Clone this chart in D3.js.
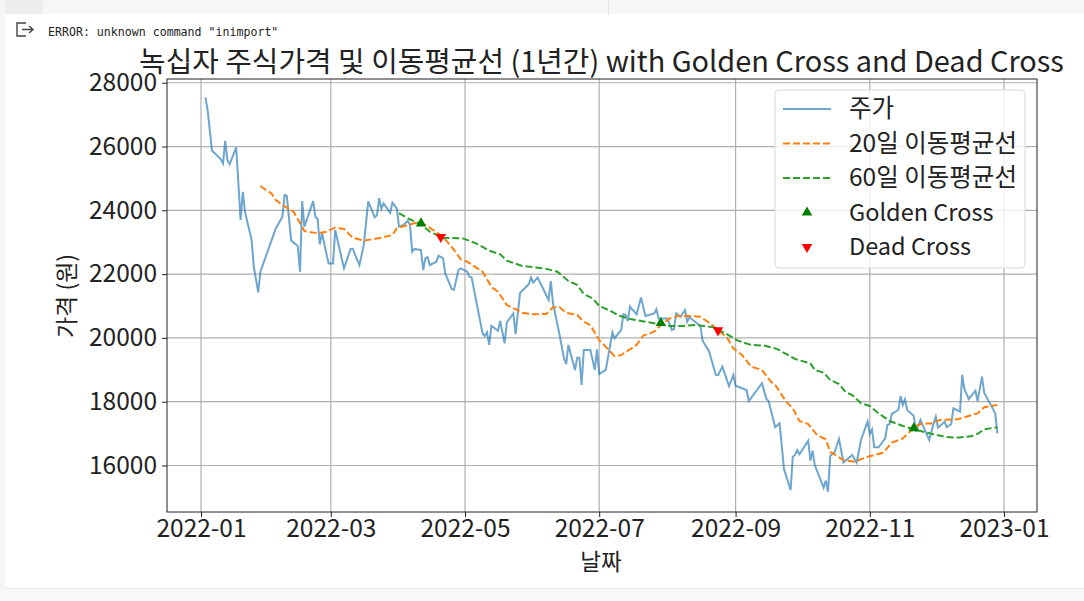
<!DOCTYPE html>
<html>
<head>
<meta charset="utf-8">
<script src="https://cdn.jsdelivr.net/npm/d3@7"></script>
<style>
  html, body { margin: 0; padding: 0; background: #fff; overflow: hidden; }
  svg { display: block; }
  text { font-family: "Noto Sans CJK KR", "Noto Sans", sans-serif; fill: #222; }
</style>
</head>
<body>
<div id="root"></div>
<script>
// days are counted from 2022-01-01, values are won
const priceDays = [2,3,5,7,9,10,11,12,13,16,18,19,20,23,24,26,27,34,37,38,39,41,44,45,46,47,51,52,53,54,55,58,60,61,65,68,69,72,74,76,79,80,81,82,83,86,87,89,90,92,94,95,96,97,100,101,102,103,104,107,108,110,111,114,115,117,118,121,122,123,128,129,130,131,132,135,136,138,139,142,143,145,146,149,150,151,153,158,159,160,163,165,166,167,170,171,172,173,174,177,179,180,181,184,187,188,191,192,193,194,195,198,200,202,206,207,208,212,214,215,216,218,220,221,222,227,228,231,234,235,237,240,242,243,248,249,255,257,258,261,263,265,268,269,270,271,272,276,277,278,279,283,284,285,286,288,290,292,296,298,300,303,304,305,306,308,311,312,313,314,317,318,319,320,321,324,325,327,331,333,334,335,338,339,341,342,345,346,347,349,352,353,355,356,361,362];
const priceValues = [27540,27145,25870,25740,25600,25470,26180,25580,25440,25975,23700,24580,23950,23070,22230,21430,22075,23430,23800,24480,24450,23050,22880,22075,24290,23490,24290,23800,23730,22935,23280,22330,22330,23380,22180,22790,22790,22280,22910,24280,23780,23850,24380,24040,24220,23925,24240,24060,23490,23540,23675,23540,22700,22790,22755,22130,22500,22530,22285,22390,22575,22500,22025,21530,21510,22130,22180,22075,21920,21900,20140,20060,20175,19780,20380,20225,20530,19830,20490,20770,20120,21400,21480,21680,21890,21730,21890,21190,21780,21085,20090,19360,19180,19780,18995,19380,19380,18525,19620,19620,18995,19640,18870,18995,20175,19990,20250,20740,20720,20530,20980,20740,21270,20690,20770,20900,20610,20610,20250,20280,20770,20665,20875,20510,20645,20375,19910,19570,18840,18830,19100,18490,18840,18500,18365,18020,18580,18085,18020,17200,17320,15890,15230,16275,16330,16485,16350,16780,16150,16465,16015,15305,15525,15180,16300,16415,16830,16100,16330,16090,16800,17385,16990,17130,16570,16570,16850,17270,17300,17615,17740,18180,17900,18075,17740,17550,17060,17430,16800,17320,17530,17185,17375,17200,17300,17790,17685,18840,18390,18085,18345,18020,18785,18280,17635,17010];
const ma20Days = [27,32,34,37,42,44,47,53,57,61,65,69,74,82,87,89,94,98,102,106,110,115,118,121,128,132,135,139,143,146,151,157,160,163,166,171,174,177,181,184,188,191,198,201,206,209,213,217,222,227,231,235,239,242,246,250,255,259,261,266,269,272,276,280,284,286,292,297,303,310,314,319,325,328,332,336,344,353,356,362];
const ma20Values = [24760,24530,24320,24165,23960,23730,23350,23280,23330,23455,23415,23140,23050,23140,23225,23435,23540,23610,23540,23360,23170,22760,22470,22390,22075,21600,21450,21030,20900,20790,20740,20750,20960,20960,20790,20720,20510,20400,19930,19720,19430,19460,19780,20070,20195,20400,20610,20690,20690,20665,20475,20250,20020,19670,19460,19100,18995,18630,18525,18000,17790,17395,17300,16955,16820,16430,16170,16120,16275,16400,16715,16850,17240,17320,17320,17430,17450,17635,17825,17900];
const ma60Days = [90,94,100,104,110,119,125,131,136,139,146,156,162,167,171,174,178,181,186,190,195,200,206,213,219,225,233,239,244,250,256,262,270,277,279,283,286,290,293,296,300,304,308,313,319,325,333,339,343,350,353,356,362];
const ma60Values = [23910,23750,23560,23330,23140,23120,22965,22735,22620,22420,22255,22180,22075,21785,21660,21375,21240,21000,20850,20695,20595,20530,20460,20375,20375,20405,20330,20120,19915,19780,19760,19650,19340,19200,18995,18910,18680,18555,18300,18210,17950,17865,17635,17395,17240,17115,16980,16890,16870,16915,16990,17135,17200];
const goldenDays = [100, 209, 324];
const goldenValues = [23590, 20465, 17170];
const deadDays = [109, 235];
const deadValues = [23165, 20235];
const yTicks = [16000, 18000, 20000, 22000, 24000, 26000, 28000];
const xTicks = ['2022-01-01', '2022-03-01', '2022-05-01', '2022-07-01', '2022-09-01', '2022-11-01', '2023-01-01'];

const width = 1084, height = 601;
const plot = { left: 167, right: 1037, top: 79, bottom: 512 };
const parseDay = d3.utcParse('%Y-%m-%d');
const start = parseDay('2022-01-01');
const toDate = (d) => new Date(+start + d * 864e5);

const svg = d3.select('#root').append('svg').attr('width', width).attr('height', height);

// notebook frame around the output
svg.append('rect').attr('width', width).attr('height', height).attr('fill', '#fff');
svg.append('rect').attr('width', width).attr('height', 14).attr('fill', '#f6f6f6');
svg.append('rect').attr('width', 43).attr('height', 14).attr('fill', '#eeeeee');
svg.append('rect').attr('x', 608).attr('width', 1).attr('height', 14).attr('fill', '#e2e2e2');
svg.append('rect').attr('width', 5).attr('height', height).attr('fill', '#f6f6f6');
svg.append('rect').attr('y', 589).attr('width', width).attr('height', 12).attr('fill', '#f8f8f8');
svg.append('rect').attr('y', 588).attr('x', 5).attr('width', width).attr('height', 1).attr('fill', '#e6e6e6');

svg.append('path')
    .attr('d', 'M26 23H17V36H26 M33 29.5H22 M29 26L33 29.5L29 33')
    .attr('fill', 'none').attr('stroke', '#444').attr('stroke-width', 1.4);
svg.append('text').attr('x', 48).attr('y', 36)
    .style('font-family', '"DejaVu Sans Mono", monospace').style('font-size', '11.6px')
    .text('ERROR: unknown command "inimport"');

let x = d3.scaleUtc()
    .domain([toDate((plot.left - 201) / 2.2), toDate((plot.right - 201) / 2.2)])
    .range([plot.left, plot.right]);
let y = d3.scaleLinear()
    .domain([14542, 28117])
    .range([plot.bottom, plot.top]);

// grid
svg.append('g').selectAll('line').data(xTicks).enter().append('line')
    .attr('x1', (d) => x(parseDay(d))).attr('x2', (d) => x(parseDay(d)))
    .attr('y1', plot.top).attr('y2', plot.bottom)
    .attr('stroke', '#b0b0b0').attr('stroke-width', 1.2);
svg.append('g').selectAll('line').data(yTicks).enter().append('line')
    .attr('x1', plot.left).attr('x2', plot.right)
    .attr('y1', (d) => y(d)).attr('y2', (d) => y(d))
    .attr('stroke', '#b0b0b0').attr('stroke-width', 1.2);

// series
const line = d3.line().x((d) => x(toDate(d[0]))).y((d) => y(d[1]));
const seriesStyle = [
    { days: priceDays, values: priceValues, color: '#1f77b4', opacity: 0.65, dash: null, label: '주가' },
    { days: ma20Days, values: ma20Values, color: '#ff7f0e', opacity: 1, dash: '7,3', label: '20일 이동평균선' },
    { days: ma60Days, values: ma60Values, color: '#2ca02c', opacity: 1, dash: '7,3', label: '60일 이동평균선' }
];
seriesStyle.forEach((s) => {
    svg.append('path')
        .datum(s.days.map((d, i) => [d, s.values[i]]))
        .attr('d', line)
        .attr('fill', 'none')
        .attr('stroke', s.color)
        .attr('stroke-width', 2)
        .attr('stroke-opacity', s.opacity)
        .attr('stroke-dasharray', s.dash);
});

const triangle = d3.symbol().type(d3.symbolTriangle).size(48);
function drawMarkers(days, values, color, flip) {
    svg.append('g').selectAll('path').data(days).enter().append('path')
        .attr('d', triangle)
        .attr('fill', color)
        .attr('transform', (d, i) => `translate(${x(toDate(d))},${y(values[i])})` + (flip ? ' scale(1,-1)' : ''));
}
drawMarkers(goldenDays, goldenValues, 'green', false);
drawMarkers(deadDays, deadValues, 'red', true);

// frame and axes
svg.append('rect')
    .attr('x', plot.left).attr('y', plot.top)
    .attr('width', plot.right - plot.left).attr('height', plot.bottom - plot.top)
    .attr('fill', 'none').attr('stroke', '#222').attr('stroke-width', 1);

let xAxis = svg.append('g')
    .attr('transform', `translate(0,${plot.bottom})`)
    .call(d3.axisBottom(x).tickValues(xTicks.map(parseDay)).tickFormat(d3.utcFormat('%Y-%m')).tickSize(5).tickPadding(3));
let yAxis = svg.append('g')
    .attr('transform', `translate(${plot.left},0)`)
    .call(d3.axisLeft(y).tickValues(yTicks).tickFormat(d3.format('d')).tickSize(5).tickPadding(5));
[xAxis, yAxis].forEach((a) => {
    a.select('.domain').remove();
    a.selectAll('text').style('font-size', '24.5px').style('font-family', '"Noto Sans CJK KR", "Noto Sans", sans-serif').attr('fill', '#222');
    a.selectAll('line').attr('stroke', '#222');
});

svg.append('text').attr('x', 601.5).attr('y', 72).attr('text-anchor', 'middle')
    .style('font-size', '28.9px').text('녹십자 주식가격 및 이동평균선 (1년간) with Golden Cross and Dead Cross');
svg.append('text').attr('x', 601).attr('y', 570).attr('text-anchor', 'middle')
    .style('font-size', '22.5px').text('날짜');
svg.append('text').attr('transform', 'translate(75,296) rotate(-90)').attr('text-anchor', 'middle')
    .style('font-size', '23px').text('가격 (원)');

// legend
const legend = svg.append('g');
legend.append('rect')
    .attr('x', 775).attr('y', 90).attr('width', 250).attr('height', 178).attr('rx', 4)
    .attr('fill', '#fff').attr('fill-opacity', 0.8).attr('stroke', '#d8d8d8');
const legendRows = d3.scalePoint().domain(d3.range(5)).range([109, 247]);
seriesStyle.forEach((s, i) => {
    legend.append('line')
        .attr('x1', 783).attr('x2', 831)
        .attr('y1', legendRows(i)).attr('y2', legendRows(i))
        .attr('stroke', s.color).attr('stroke-width', 2)
        .attr('stroke-opacity', s.opacity).attr('stroke-dasharray', s.dash);
    legend.append('text').attr('x', 849).attr('y', legendRows(i) + 8)
        .style('font-size', '24.5px').text(s.label);
});
[['Golden Cross', 'green', false], ['Dead Cross', 'red', true]].forEach((m, i) => {
    legend.append('path').attr('d', triangle).attr('fill', m[1])
        .attr('transform', `translate(807,${legendRows(i + 3)})` + (m[2] ? ' scale(1,-1)' : ''));
    legend.append('text').attr('x', 849).attr('y', legendRows(i + 3) + 8)
        .style('font-size', '23.5px').text(m[0]);
});
</script>
</body>
</html>
